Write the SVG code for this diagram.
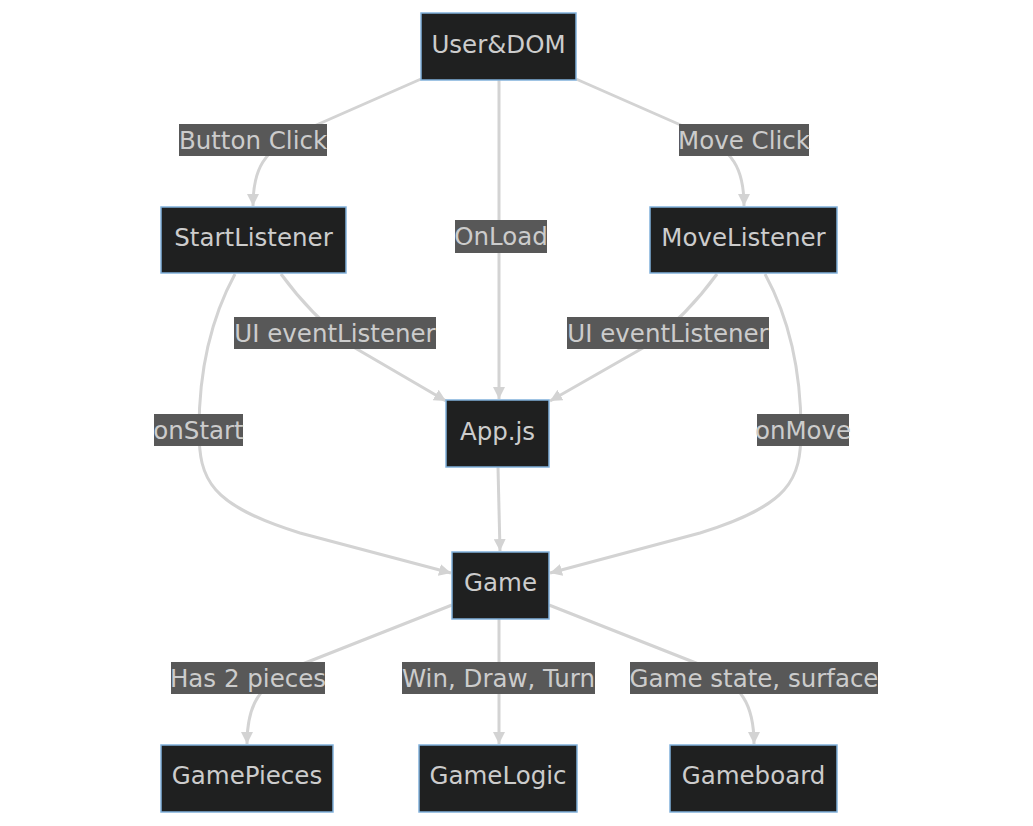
<svg xmlns="http://www.w3.org/2000/svg" width="1033" height="826" viewBox="0 0 1033 826">
<style>
.node rect{fill:#1f2020;stroke:#81b1db;stroke-width:1.5}
.node text,.label text{font-family:"DejaVu Sans",sans-serif;font-size:24.5px;fill:#cccccc;text-anchor:middle;dominant-baseline:central}
.label rect{fill:#585858}
.edge{fill:none;stroke:#d3d3d3;stroke-width:3}
</style>
<defs>
<marker id="arrow" viewBox="0 0 10 10" refX="10" refY="5" markerUnits="userSpaceOnUse" markerWidth="12" markerHeight="12" orient="auto">
<path d="M0,0 L10,5 L0,10 z" fill="#d3d3d3"/>
</marker>
</defs>
<rect width="1033" height="826" fill="#ffffff"/>
<g id="connectors">
<path class="edge" marker-end="url(#arrow)" d="M421,79 L305,130 C262,150 253,170 253,206"/>
<path class="edge" marker-end="url(#arrow)" d="M499,80 L499,399"/>
<path class="edge" marker-end="url(#arrow)" d="M576,79 L692,130 C735,150 744,170 744,206"/>
<path class="edge" marker-end="url(#arrow)" d="M281,274 C300,300 320,322 350,345 L446,401"/>
<path class="edge" marker-end="url(#arrow)" d="M717,274 C698,300 678,322 648,345 L550,401"/>
<path class="edge" marker-end="url(#arrow)" d="M235,274 C210,320 199,370 199,430 C199,480 210,505 300,533 L451,573"/>
<path class="edge" marker-end="url(#arrow)" d="M765,274 C790,320 801,370 801,430 C801,480 790,505 700,533 L550,573"/>
<path class="edge" marker-end="url(#arrow)" d="M498,467 L500,551"/>
<path class="edge" marker-end="url(#arrow)" d="M452,605 L300,665 C258,685 247,705 247,744"/>
<path class="edge" marker-end="url(#arrow)" d="M499,619 L499,744"/>
<path class="edge" marker-end="url(#arrow)" d="M549,605 L701,665 C743,685 754,705 754,744"/>
</g>
<g id="edge-labels">
<g class="label"><rect x="179" y="124" width="148" height="32"/><text x="253" y="140">Button Click</text></g>
<g class="label"><rect x="679" y="124" width="130" height="32"/><text x="744" y="140">Move Click</text></g>
<g class="label"><rect x="455" y="220" width="92" height="33"/><text x="501" y="236">OnLoad</text></g>
<g class="label"><rect x="234" y="317" width="202" height="32"/><text x="335" y="333">UI eventListener</text></g>
<g class="label"><rect x="567" y="317" width="202" height="32"/><text x="668" y="333">UI eventListener</text></g>
<g class="label"><rect x="154" y="414" width="89" height="32"/><text x="198.5" y="430">onStart</text></g>
<g class="label"><rect x="757" y="414" width="92" height="32"/><text x="803" y="430">onMove</text></g>
<g class="label"><rect x="171" y="662" width="154" height="32"/><text x="248" y="678">Has 2 pieces</text></g>
<g class="label"><rect x="402" y="662" width="193" height="32"/><text x="498.5" y="678">Win, Draw, Turn</text></g>
<g class="label"><rect x="630" y="662" width="248" height="32"/><text x="754" y="678">Game state, surface</text></g>
</g>
<g id="node-user" class="node"><rect x="421" y="13" width="155" height="67"/><text x="498.5" y="44">User&amp;DOM</text></g>
<g id="node-start" class="node"><rect x="161" y="207" width="185" height="66"/><text x="253.5" y="237">StartListener</text></g>
<g id="node-move" class="node"><rect x="650" y="207" width="187" height="66"/><text x="743.5" y="237">MoveListener</text></g>
<g id="node-app" class="node"><rect x="446" y="400" width="103" height="67"/><text x="497.5" y="431">App.js</text></g>
<g id="node-game" class="node"><rect x="452" y="552" width="97" height="67"/><text x="500.5" y="582">Game</text></g>
<g id="node-pieces" class="node"><rect x="161" y="745" width="172" height="67"/><text x="247" y="775">GamePieces</text></g>
<g id="node-logic" class="node"><rect x="419" y="745" width="158" height="67"/><text x="498" y="775">GameLogic</text></g>
<g id="node-board" class="node"><rect x="670" y="745" width="167" height="67"/><text x="753.5" y="775">Gameboard</text></g>
</svg>
